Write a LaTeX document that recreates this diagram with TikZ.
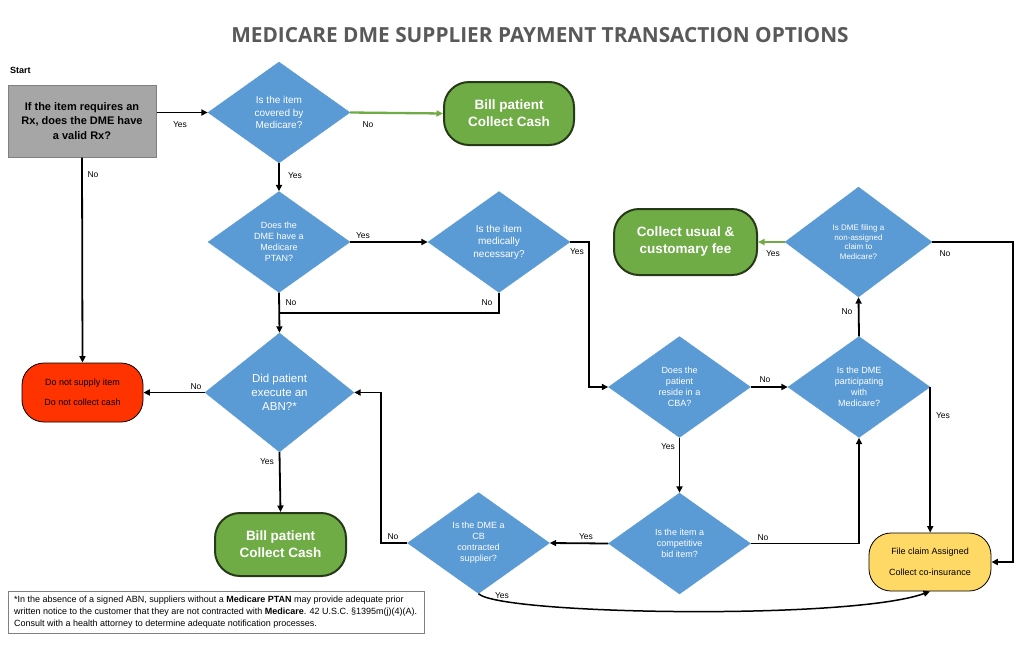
\documentclass[tikz,border=0pt]{standalone}
\usepackage{fontspec}
\setmainfont{Liberation Sans}
\newfontfamily\titlefont{Open Sans}
\usetikzlibrary{shapes.geometric,arrows.meta}
\definecolor{dblue}{HTML}{5B9BD5}
\definecolor{tgreen}{HTML}{6FAC46}
\definecolor{tgborder}{HTML}{263A17}
\definecolor{tred}{HTML}{FF3300}
\definecolor{tyellow}{HTML}{FFD966}
\definecolor{tgray}{HTML}{A6A6A6}
\definecolor{tgrayb}{HTML}{808080}
\definecolor{titlegray}{HTML}{595959}
\begin{document}
\begin{tikzpicture}[x=1pt,y=-1pt,
  dec/.style={diamond, fill=dblue, draw=dblue, line width=0.4pt, text=white, align=center, inner sep=0pt, minimum width=142pt, minimum height=101pt, font=\fontsize{9}{11}\selectfont},
  gterm/.style={rectangle, rounded corners=25pt, fill=tgreen, draw=tgborder, line width=2pt, text=white, align=center, font=\bfseries\fontsize{13.5}{17}\selectfont, inner sep=0pt},
  sterm/.style={rectangle, rounded corners=22pt, draw=black, line width=0.8pt, align=center, inner sep=0pt, minimum width=122pt, minimum height=58pt, font=\fontsize{9}{11}\selectfont},
  lbl/.style={font=\fontsize{8.5}{10}\selectfont, inner sep=0pt},
  conn/.style={line width=1.8pt},
  arr/.style={line width=1.8pt, -{Triangle[length=6.5pt,width=6pt]}},
  garr/.style={line width=2.3pt, draw=tgreen, -{Triangle[length=6.5pt,width=6pt]}}
]
\useasboundingbox (0,0) rectangle (1024,648);
\fill[white] (0,0) rectangle (1024,648);

\node[font=\titlefont\bfseries\fontsize{20.8}{24}\selectfont, text=titlegray, inner sep=0pt] (title) at (540,35) {MEDICARE DME SUPPLIER PAYMENT TRANSACTION OPTIONS};
\node[font=\bfseries\fontsize{9}{11}\selectfont, anchor=west, inner sep=0pt] (start) at (10,70) {Start};

\node[rectangle, fill=tgray, draw=tgrayb, line width=1pt, minimum width=148pt, minimum height=72pt, align=center, font=\bfseries\fontsize{11}{14.3}\selectfont, inner sep=0pt] (rx) at (82,121) {If the item requires an\\Rx, does the DME have\\a valid Rx?};

\node[dec, font=\fontsize{10}{12.5}\selectfont] (d1) at (279,112.5) {Is the item\\covered by\\Medicare?};
\node[gterm, minimum width=130pt, minimum height=63pt] (g1) at (509,113.5) {Bill patient\\Collect Cash};
\node[dec] (d2) at (279,242) {Does the\\DME have a\\Medicare\\PTAN?};
\node[dec, font=\fontsize{10}{12.5}\selectfont] (d3) at (499,242) {Is the item\\medically\\necessary?};
\node[dec, minimum width=149pt, minimum height=119pt, font=\fontsize{11.5}{14}\selectfont] (d5) at (279.5,392.5) {Did patient\\execute an\\ABN?*};
\node[sterm, fill=tred, minimum width=121pt, minimum height=59pt] (red) at (82.5,392.5) {Do not supply item\\[9pt]Do not collect cash};
\node[gterm, minimum width=131pt, minimum height=63pt] (g2) at (280.5,544.5) {Bill patient\\Collect Cash};
\node[dec] (d4) at (679.5,387) {Does the\\patient\\reside in a\\CBA?};
\node[dec] (d6) at (859,387) {Is the DME\\participating\\with\\Medicare?};
\node[dec] (d8) at (679.5,543.5) {Is the item a\\competitive\\bid item?};
\node[dec] (d7) at (478.5,543) {Is the DME a\\CB\\contracted\\supplier?};
\node[dec, minimum width=147pt, minimum height=110pt, font=\fontsize{8}{9.5}\selectfont] (d9) at (858.5,242) {Is DME filing a\\non-assigned\\claim to\\Medicare?};
\node[gterm, minimum width=143pt, minimum height=66pt] (g3) at (685.5,242) {Collect usual \&\\customary fee};
\node[sterm, fill=tyellow] (yel) at (930,562) {File claim Assigned\\[10pt]Collect co-insurance};

\node[rectangle, draw=tgrayb, line width=0.9pt, anchor=north west, minimum width=416pt, minimum height=42pt, inner sep=0pt] (fn) at (8,591) {};
\node[anchor=west, align=left, font=\fontsize{9}{11.8}\selectfont, inner sep=0pt] (fntext) at (14,612) {*In the absence of a signed ABN, suppliers without a \textbf{Medicare PTAN} may provide adequate prior\\written notice to the customer that they are not contracted with \textbf{Medicare}. 42 U.S.C. §1395m(j)(4)(A).\\Consult with a health attorney to determine adequate notification processes.};

% coordinates
\coordinate (p1) at (589,300);
\coordinate (j1) at (279,313);
\coordinate (p2) at (381,450);
\coordinate (p3) at (1013,400);

% connectors
\draw[arr] (rx.east |- d1.west) -- (d1.west);
\draw[garr] (d1.east) -- (g1.west);
\draw[arr] (d1.south) -- (d2.north);
\draw[arr] (rx.south) -- (red.north);
\draw[arr] (d2.east) -- (d3.west);
\draw[arr] (d3.east) -| (p1) |- (d4.west);
\draw[conn] (d3.south) |- (j1);
\draw[arr] (d2.south) -- (d5.north);
\draw[arr] (d5.west) -- (red.east);
\draw[arr] (d5.south) -- (g2.north);
\draw[arr] (d7.west) -| (p2) |- (d5.east);
\draw[arr] (d8.west) -- (d7.east);
\draw[arr] (d4.east) -- (d6.west);
\draw[arr] (d4.south) -- (d8.north);
\draw[arr] (d8.east) -| (d6.south);
\draw[arr] (d6.east) -- (d6.east |- yel.north);
\draw[arr] (d6.north) -- (d9.south);
\draw[garr] (d9.west) -- (g3.east);
\draw[arr] (d9.east) -| (p3) |- (yel.east);
\draw[line width=1.5pt, -{Triangle[length=6.5pt,width=6pt]}] (d7.south) .. controls +(21.5,21) and +(-80,29) .. (yel.south);

% labels
\node[lbl] (l1) at (180,125) {Yes};
\node[lbl] (l2) at (368,125) {No};
\node[lbl] (l3) at (295,176) {Yes};
\node[lbl] (l4) at (93,175) {No};
\node[lbl] (l5) at (363,236) {Yes};
\node[lbl] (l6) at (577,252) {Yes};
\node[lbl] (l7) at (487,303) {No};
\node[lbl] (l8) at (291,303) {No};
\node[lbl] (l9) at (196,387) {No};
\node[lbl] (l10) at (267,462) {Yes};
\node[lbl] (l11) at (393,537) {No};
\node[lbl] (l12) at (586,537) {Yes};
\node[lbl] (l13) at (765,380) {No};
\node[lbl] (l14) at (668,447) {Yes};
\node[lbl] (l15) at (763,538) {No};
\node[lbl] (l16) at (943,416) {Yes};
\node[lbl] (l17) at (847,312) {No};
\node[lbl] (l18) at (773,254) {Yes};
\node[lbl] (l19) at (945,254) {No};
\node[lbl] (l20) at (502,596) {Yes};
\end{tikzpicture}
\end{document}
